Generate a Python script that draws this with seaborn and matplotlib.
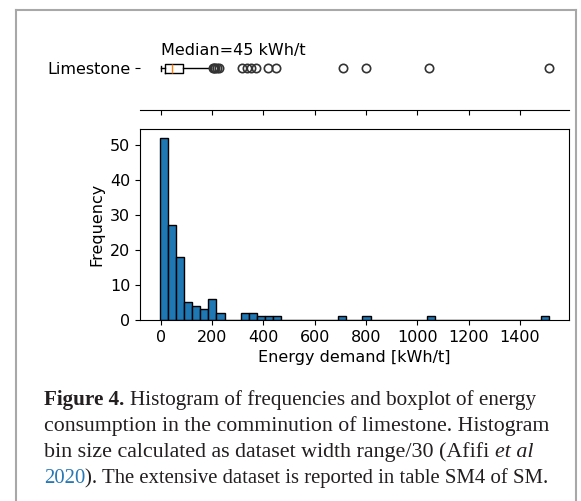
import numpy as np
import pandas as pd
import matplotlib
matplotlib.use("Agg")
import matplotlib.pyplot as plt
from matplotlib.lines import Line2D
import seaborn as sns

# ---------------- data ----------------
bin_start = -4.0          # kWh/t, left edge of first bin
bin_width = 31.6          # kWh/t
n_bins = 48
hist_bin_index = [0, 1, 2, 3, 4, 5, 6, 7, 10, 11, 12, 13, 14, 22, 25, 33, 47]
hist_counts = [52, 27, 18, 5, 4, 3, 6, 2, 2, 2, 1, 1, 1, 1, 1, 1, 1]

box_label = "Limestone"
box_q1 = 17
box_median = 45
box_q3 = 87
box_whisker_low = 1
box_whisker_high = 196
box_outliers = [203, 208, 213, 218, 226, 318, 335, 352, 372, 418, 448,
                712, 800, 1045, 1512]

x_ticks = [0, 200, 400, 600, 800, 1000, 1200, 1400]
y_ticks = [0, 10, 20, 30, 40, 50]

# ---------------- figure ----------------
W, H = 581, 501
fig = plt.figure(figsize=(W / 100, H / 100), dpi=100)
plt.rcParams["font.family"] = ["DejaVu Sans"]
FS = 11.5

def rect(left, top, right, bottom):
    return [left / W, 1 - bottom / H, (right - left) / W, (bottom - top) / H]

ax_h = fig.add_axes(rect(140, 128.5, 569, 320))
ax_b = fig.add_axes(rect(140, 27, 569, 109.5), sharex=ax_h)

# histogram
edges = [float(e) for e in bin_start + bin_width * np.arange(n_bins + 1)]
centers = [bin_start + bin_width * (i + 0.5) for i in hist_bin_index]
df = pd.DataFrame({"energy": centers, "count": hist_counts})
sns.histplot(data=df, x="energy", weights="count", bins=edges, ax=ax_h,
             color="#1f77b4", edgecolor="black", linewidth=1.0, alpha=1.0)
ax_h.set_xlabel("Energy demand [kWh/t]", fontsize=FS)
ax_h.set_ylabel("Frequency", fontsize=FS)
ax_h.set_xticks(x_ticks)
ax_h.set_yticks(y_ticks)
ax_h.tick_params(labelsize=FS)
ax_h.set_xlim(-80.5, 1591)
ax_h.set_ylim(0, 54.6)

# boxplot
stats = [dict(label=box_label, q1=box_q1, med=box_median, q3=box_q3,
              whislo=box_whisker_low, whishi=box_whisker_high,
              fliers=box_outliers)]
ax_b.bxp(stats, positions=[1], widths=0.11, orientation="horizontal",
         boxprops=dict(color="black", linewidth=1.0),
         whiskerprops=dict(color="black", linewidth=1.0),
         capprops=dict(color="black", linewidth=1.0),
         medianprops=dict(color="#ff7f0e", linewidth=1.0),
         flierprops=dict(marker="o", markerfacecolor="none",
                         markeredgecolor="#333333", markersize=6,
                         markeredgewidth=1.2))
ax_b.set_ylim(0.5, 1.5)
for s in ["top", "left", "right"]:
    ax_b.spines[s].set_visible(False)
ax_b.tick_params(axis="x", labelbottom=False)
ax_b.tick_params(axis="y", labelsize=FS)
ax_b.text(0, 1.16, f"Median={box_median} kWh/t", fontsize=FS,
          ha="left", va="baseline")

# frame around the figure panel
fc = "#a8a8a8"
fig.add_artist(Line2D([16 / W, 16 / W], [1 - 9.5 / H, -0.05], color=fc, lw=1.5))
fig.add_artist(Line2D([576 / W, 576 / W], [1 - 9.5 / H, -0.05], color=fc, lw=1.5))
fig.add_artist(Line2D([16 / W, 576 / W], [1 - 9.5 / H, 1 - 9.5 / H], color=fc, lw=1.5))

# caption
renderer = fig.canvas.get_renderer()
SERIF = "Liberation Serif"
TXT = "#231f20"

def width_of(s, size, **kw):
    t = fig.text(0, 0, s, fontsize=size, family=SERIF, **kw)
    w = t.get_window_extent(renderer).width
    t.remove()
    return w

def line_width(segments, size):
    sp = width_of("x x", size) - width_of("xx", size)
    total = 0.0
    for txt, kw in segments:
        if txt == " ":
            total += sp
        else:
            kw = {k: v for k, v in kw.items() if k != "color"}
            total += width_of(txt, size, **kw)
    return total

def draw_line(segments, x0, baseline, target_w):
    size = 10 * target_w / line_width(segments, 10)
    sp = width_of("x x", size) - width_of("xx", size)
    x = x0
    for txt, kw in segments:
        if txt == " ":
            x += sp
            continue
        kw = dict(kw)
        t = fig.text(x / W, 1 - baseline / H, txt, fontsize=size,
                     family=SERIF, ha="left", va="baseline",
                     color=kw.pop("color", TXT), **kw)
        x += t.get_window_extent(renderer).width

lines = [
    [("Figure 4.", dict(weight="bold")), (" ", {}),
     ("Histogram of frequencies and boxplot of energy", {})],
    [("consumption in the comminution of limestone. Histogram", {})],
    [("bin size calculated as dataset width range/30 (Afifi", {}), (" ", {}),
     ("et al", dict(style="italic"))],
    [("2020", dict(color="#2878b5")),
     ("). The extensive dataset is reported in table SM4 of SM.", {})],
]
line_targets = [493, 505, 491, 507]
for i, segs in enumerate(lines):
    draw_line(segs, 44, 405 + 26 * i, line_targets[i])

fig.savefig("out.png", dpi=100)
